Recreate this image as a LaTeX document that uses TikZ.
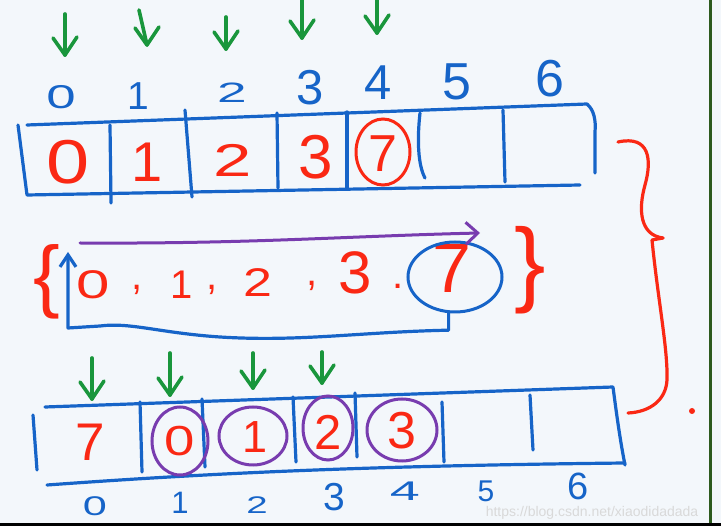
\documentclass[tikz,border=0pt]{standalone}
\usepackage{fontspec}
\setmainfont{Liberation Sans}
\usetikzlibrary{arrows.meta,shapes.geometric}
\definecolor{penblue}{RGB}{22,100,200}
\definecolor{penred}{RGB}{250,40,20}
\definecolor{pengreen}{RGB}{25,150,60}
\definecolor{penpurple}{RGB}{120,60,175}
\definecolor{bgc}{RGB}{243,247,251}
\definecolor{edgegreen}{RGB}{45,90,30}
\newcommand{\gdown}[3]{%
  \coordinate (#1t) at (#2);
  \coordinate (#1h) at (#3);
  \draw[gl] (#1t) -- (#1h);
  \draw[gl] (#1h) ++(-12,-17) -- (#1h) -- ++(12,-18);}
\begin{document}
\begin{tikzpicture}[x=1pt,y=-1pt,
  bl/.style={draw=penblue,line width=3.2pt,line cap=round,line join=round},
  rl/.style={draw=penred,line width=3.2pt,line cap=round,line join=round},
  gl/.style={draw=pengreen,line width=3.6pt,line cap=round,line join=round},
  pl/.style={draw=penpurple,line width=3pt,line cap=round,line join=round},
  rd/.style={text=penred,inner sep=0pt,font=\fontsize{#1}{#1}\selectfont},
  bd/.style={text=penblue,inner sep=0pt,font=\fontsize{#1}{#1}\selectfont},
  ring/.style={ellipse,draw=#1,line width=3pt,inner sep=0pt}]
\fill[bgc] (0,0) rectangle (721,526);
\useasboundingbox (0,0) rectangle (721,526);
\draw[edgegreen,line width=3pt] (710.5,0) -- (710.5,523);
\fill[black] (0,523) rectangle (721,526);

% green pointer arrows, top
\gdown{ga0}{65,14}{65,55}
\gdown{ga1}{139,10}{147,45}
\gdown{ga2}{226,17}{226,49}
\gdown{ga3}{302,0}{302,38}
\gdown{ga4}{377,0}{377,33}

% top indices
\node[bd=33,xscale=1.6] (ti0) at (61,97) {0};
\node[bd=39] (ti1) at (138,96) {1};
\node[bd=28,xscale=1.9] (ti2) at (232,93) {2};
\node[bd=49] (ti3) at (310,88) {3};
\node[bd=49] (ti4) at (378,83) {4};
\node[bd=52] (ti5) at (457,82) {5};
\node[bd=52] (ti6) at (550,79) {6};

% top array
\draw[bl] (18,125) -- (27,195) -- (580,185);
\draw[bl] (27,125) -- (587,104) .. controls (594,110) and (596,120) .. (595,132) -- (595,173);
\draw[bl] (110,125) -- (111,203);
\draw[bl] (185,110) -- (192,197);
\draw[bl] (277,113) -- (278,188);
\draw[bl] (347,112) -- (347,188);
\draw[bl] (420,113) .. controls (417,140) and (418,165) .. (425,178);
\draw[bl] (503,110) -- (505,182);

\node[rd=62,xscale=1.25] (tv0) at (68,162) {0};
\node[rd=56] (tv1) at (147,162) {1};
\node[rd=46,xscale=1.5] (tv2) at (233,160) {2};
\node[rd=62] (tv3) at (316,157) {3};
\node[rd=52] (tv4) at (383,154) {7};
\node[ring=penred,minimum width=54,minimum height=66] (tc4) at (383,152) {};

% middle set
\node[rd=80] (lbr) at (47,282) {\{};
\node[rd=40,xscale=1.5] (m0) at (93,285) {0};
\node[rd=40] (k1) at (137,290) {,};
\node[rd=40] (m1) at (182,285) {1};
\node[rd=40] (k2) at (212,290) {,};
\node[rd=40,xscale=1.3] (m2) at (258,283) {2};
\node[rd=40] (k3) at (312,286) {,};
\node[rd=60] (m3) at (355,273) {3};
\node[rd=40] (k4) at (398,286) {.};
\node[rd=70] (m7) at (452,268) {7};
\node[rd=94] (rbr) at (530,270) {\}};
\node[ring=penblue,minimum width=94,minimum height=70] (c7) at (455,277) {};

\coordinate (ps) at (80,243);
\coordinate (pe) at (480,233);
\draw[pl,-{Straight Barb[length=12pt,width=22pt]}] (ps) .. controls (250,244) and (350,236) .. (pe);

\coordinate (retn) at (68,252);
\draw[bl,-{Straight Barb[length=12pt,width=16pt]}] (c7.260) -- ++(0,17)
  .. controls (360,332) and (300,342) .. (220,337)
  .. controls (160,333) and (130,322) .. (100,326) -- (68,328) -- (retn);

% big brace and dot
\draw[rl] (618,142) .. controls (650,135) and (652,160) .. (645,185)
  .. controls (638,210) and (640,235) .. (663,238);
\draw[rl] (663,238) -- (652,240) .. controls (658,300) and (668,350) .. (667,380)
  .. controls (666,400) and (650,412) .. (628,413);
\fill[penred] (692,411) circle (3);

% green pointer arrows, bottom
\gdown{gb0}{92,358}{92,399}
\gdown{gb1}{170,353}{170,395}
\gdown{gb2}{253,353}{253,388}
\gdown{gb3}{322,352}{322,383}

% bottom array
\draw[bl] (45,407) -- (613,387) .. controls (616,410) and (620,440) .. (625,465);
\draw[bl] (47,485) .. controls (200,474) and (350,466) .. (625,463);
\draw[bl] (33,415) -- (37,470);
\draw[bl] (140,402) -- (142,472);
\draw[bl] (202,399) -- (205,467);
\draw[bl] (293,397) -- (296,462);
\draw[bl] (355,393) -- (357,457);
\draw[bl] (442,402) -- (444,462);
\draw[bl] (530,395) -- (533,450);

\node[rd=53] (bv0) at (90,442) {7};
\node[rd=42,xscale=1.3] (bv1) at (180,441) {0};
\node[rd=45] (bv2) at (255,437) {1};
\node[rd=49] (bv3) at (328,432) {2};
\node[rd=52] (bv4) at (402,431) {3};
\node[ring=penpurple,minimum width=56,minimum height=68] (be1) at (180,441) {};
\node[ring=penpurple,minimum width=68,minimum height=58] (be2) at (253,436) {};
\node[ring=penpurple,minimum width=50,minimum height=64] (be3) at (328,428) {};
\node[ring=penpurple,minimum width=70,minimum height=62] (be4) at (402,430) {};

% bottom indices
\node[bd=27,xscale=1.6] (bi0) at (95,506) {0};
\node[bd=31] (bi1) at (180,503) {1};
\node[bd=24,xscale=1.6] (bi2) at (257,505) {2};
\node[bd=39] (bi3) at (334,497) {3};
\node[bd=27,xscale=2] (bi4) at (405,491) {4};
\node[bd=30] (bi5) at (486,491) {5};
\node[bd=38] (bi6) at (578,486) {6};

\node[text=gray!30,font=\fontsize{14}{14}\selectfont,inner sep=0pt] (wm) at (592,513) {https://blog.csdn.net/xiaodidadada};
\end{tikzpicture}
\end{document}
